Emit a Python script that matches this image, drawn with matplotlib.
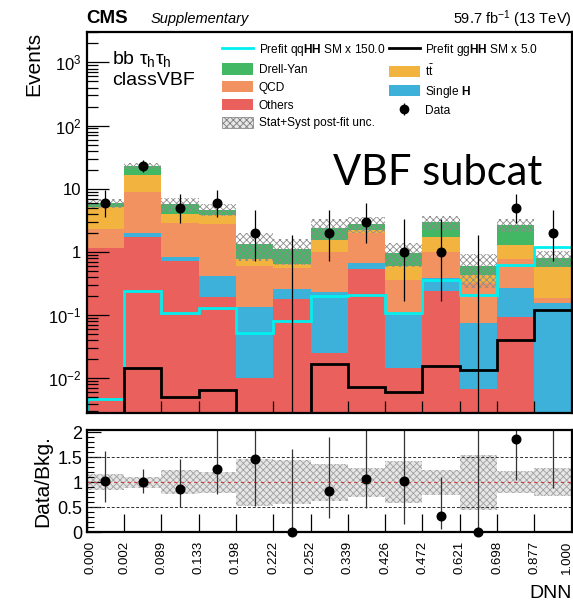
import numpy as np
import matplotlib
matplotlib.use('Agg')
import matplotlib.pyplot as plt
import matplotlib.transforms as mtransforms
from matplotlib.patches import Patch
from matplotlib.lines import Line2D
from matplotlib.ticker import FixedLocator

plt.rcParams['font.family'] = ['Liberation Sans', 'DejaVu Sans']
plt.rcParams['mathtext.fontset'] = 'custom'
plt.rcParams['mathtext.rm'] = 'Liberation Sans'
plt.rcParams['mathtext.it'] = 'Liberation Sans:italic'
plt.rcParams['mathtext.bf'] = 'Liberation Sans:bold'
plt.rcParams['hatch.linewidth'] = 0.6

# DNN bin edges (labels only, bins are drawn with equal width)
edge_labels = ['0.000', '0.002', '0.089', '0.133', '0.198', '0.222', '0.252',
               '0.339', '0.426', '0.472', '0.621', '0.698', '0.877', '1.000']

# background yields per bin (stacked bottom -> top)
others = [1.15, 1.75, 0.73, 0.196, 0.010, 0.178, 0.025, 0.53, 0.0148, 0.244, 0.0069, 0.095, 0.001]
single_h = [0.02, 0.27, 0.09, 0.22, 0.126, 0.08, 0.21, 0.13, 0.085, 0.14, 0.069, 0.171, 0.153]
qcd = [1.12, 7.0, 2.05, 2.35, 0.46, 0.31, 0.78, 1.36, 0.26, 0.63, 0.244, 0.52, 0.031]
ttbar = [2.9, 7.5, 1.13, 1.08, 0.17, 0.08, 0.53, 0.2, 0.23, 0.74, 0.11, 0.5, 0.385]
drell_yan = [0.7, 6.4, 1.7, 0.85, 0.59, 0.45, 0.89, 0.6, 0.39, 1.25, 0.17, 1.4, 0.23]

# relative post-fit uncertainty
rel_unc = [0.16, 0.11, 0.24, 0.21, 0.47, 0.44, 0.37, 0.29, 0.42, 0.25, 0.55, 0.22, 0.28]

# signals
qqhh = [0.0047, 0.241, 0.107, 0.128, 0.053, 0.082, 0.2, 0.205, 0.107, 0.36, 0.209, 0.62, 1.21]
gghh = [0.0027, 0.0144, 0.0051, 0.0065, 0.0027, 0.0027, 0.0169, 0.0074, 0.0061, 0.0159, 0.0136, 0.04, 0.12]

# data and Poisson (Garwood) errors
data = [6, 23, 5, 6, 2, 0, 2, 3, 1, 1, 0, 5, 2]
data_lo = [2.38, 4.77, 2.16, 2.38, 1.29, 0, 1.29, 1.63, 0.83, 0.83, 0, 2.16, 1.29]
data_hi = [3.58, 5.86, 3.38, 3.58, 2.64, 1.84, 2.64, 2.92, 2.30, 2.30, 1.84, 3.38, 2.64]

colors = {'Others': '#ea605d', 'Single H': '#3db1d9', 'QCD': '#f19260',
          'ttbar': '#f3b43f', 'Drell-Yan': '#42b865'}

nb = len(data)
edges = np.arange(nb + 1)
centers = edges[:-1] + 0.5
ymin, ymax = 2.86e-3, 3.06e3

fig = plt.figure(figsize=(5.73, 6.04), dpi=100)
ax = fig.add_axes([0.1513, 0.3167, 0.8464, 0.6308])
rax = fig.add_axes([0.1513, 0.1187, 0.8464, 0.1694])

# stack
layers = [(others, 'Others'), (single_h, 'Single H'), (qcd, 'QCD'),
          (ttbar, 'ttbar'), (drell_yan, 'Drell-Yan')]
base = np.full(nb, 1e-6)
for vals, name in layers:
    top = base + np.array(vals)
    ax.stairs(top, edges, baseline=base, fill=True, color=colors[name], lw=0)
    base = top
total = base

unc = total * np.array(rel_unc)
ax.stairs(total + unc, edges, baseline=total - unc, fill=True, facecolor='none',
          edgecolor='#8c8c8c', hatch='xxxxx', lw=0)

ax.stairs(qqhh, edges, baseline=1e-6, color='#00f0f0', lw=2.0)
ax.stairs(gghh, edges, baseline=1e-6, color='black', lw=2.0)

data = np.array(data, dtype=float)
lo = np.where(data > 0, data - np.array(data_lo), 1e-6)
hi = data + np.array(data_hi)
ax.vlines(centers, lo, hi, color='black', lw=0.9)
nz = data > 0
ax.plot(centers[nz], data[nz], 'o', color='black', ms=6.2)

ax.set_yscale('log')
ax.set_ylim(ymin, ymax)
ax.set_xlim(0, nb)
ax.set_ylabel('Events', fontsize=15, loc='top', labelpad=3)
ax.set_yticks([1e-2, 1e-1, 1, 10, 1e2, 1e3])
ax.set_yticklabels([r'$10^{-2}$', r'$10^{-1}$', '1', '10', r'$10^{2}$', r'$10^{3}$'], fontsize=12)
ax.tick_params(axis='y', which='major', direction='in', length=16, width=0.9, pad=4)
ax.tick_params(axis='y', which='minor', direction='in', length=8, width=0.9)
ax.set_xticks(edges)
ax.set_xticklabels([])
ax.tick_params(axis='x', which='major', direction='in', length=9, width=0.9)
ax.tick_params(axis='x', which='minor', bottom=False)
for s in ax.spines.values():
    s.set_linewidth(1.6)

# labels
fig.text(0.1513, 0.970, 'CMS', fontsize=13.5, fontweight='bold', ha='left', va='center')
fig.text(0.262, 0.968, 'Supplementary', fontsize=10.5, style='italic', ha='left', va='center')
fig.text(0.998, 0.968, r'59.7 fb$^{-1}$ (13 TeV)', fontsize=10.5, ha='right', va='center')
ax.text(0.053, 0.955, r'bb τ$_\mathrm{h}$τ$_\mathrm{h}$', transform=ax.transAxes,
        fontsize=14, ha='left', va='top')
ax.text(0.053, 0.895, 'classVBF', transform=ax.transAxes, fontsize=14, ha='left', va='top')
fig.text(333 / 573, 1 - 185 / 604, 'VBF subcat', fontsize=30, family='Lato',
         ha='left', va='baseline')

data_handle = (Line2D([], [], color='black', marker='|', ms=9, mew=0.9, lw=0),
               Line2D([], [], color='black', marker='o', ms=6, lw=0))
handles = [
    Line2D([], [], color='#00f0f0', lw=2),
    Patch(facecolor=colors['Drell-Yan'], lw=0),
    Patch(facecolor=colors['QCD'], lw=0),
    Patch(facecolor=colors['Others'], lw=0),
    Patch(facecolor='#e6e6e6', edgecolor='#7a7a7a', hatch='xxxxx', lw=0.5),
    Line2D([], [], color='black', lw=2),
    Patch(facecolor=colors['ttbar'], lw=0),
    Patch(facecolor=colors['Single H'], lw=0),
    data_handle,
]
labels = [r'Prefit qq$\mathbf{HH}$ SM x 150.0', 'Drell-Yan', 'QCD', 'Others',
          'Stat+Syst post-fit unc.', r'Prefit gg$\mathbf{HH}$ SM x 5.0', r't$\bar{\mathrm{t}}$',
          r'Single $\mathbf{H}$', 'Data']
ax.legend(handles, labels, ncol=2, loc='upper left', bbox_to_anchor=(0.27, 0.985),
          frameon=False, fontsize=8.6, handlelength=2.6, handleheight=1.1,
          handletextpad=0.45, labelspacing=0.42, columnspacing=0.3, borderaxespad=0)

# ratio panel
ratio = data / total
r_lo = np.array(data_lo) / total
r_hi = np.array(data_hi) / total
rel = np.array(rel_unc)
rax.stairs(1 + rel, edges, baseline=1 - rel, fill=True, facecolor='#e6e6e6',
           edgecolor='#a0a0a0', hatch='xxxxx', lw=0)
rax.axhline(1, color='#d04040', lw=0.8, ls=(0, (3, 3)))
for yv in (0.5, 1.5):
    rax.axhline(yv, color='#303030', lw=0.7, ls=(0, (3, 2)))
rax.vlines(centers, ratio - r_lo, ratio + r_hi, color='#333333', lw=0.9)
rmax = 2.05
inside = ratio <= rmax
rax.plot(centers[inside], ratio[inside], 'o', color='black', ms=6.2, clip_on=False, zorder=5)
rax.set_xlim(0, nb)
rax.set_ylim(0, rmax)
rax.set_yticks([0, 0.5, 1, 1.5, 2])
rax.set_yticklabels(['0', '0.5', '1', '1.5', '2'], fontsize=13)
rax.yaxis.set_minor_locator(FixedLocator(np.arange(0, 2.05, 0.1)))
rax.tick_params(axis='y', which='major', direction='in', length=10, width=0.9, pad=3)
rax.tick_params(axis='y', which='minor', direction='in', length=5, width=0.8)
rax.set_xticks(edges)
rax.set_xticklabels(edge_labels, rotation=90, fontsize=9.5)
rax.tick_params(axis='x', which='major', direction='in', length=13, width=0.9, pad=6)
# keep the first and last edge labels inside the canvas
xlabs = rax.get_xticklabels()
xlabs[0].set_transform(xlabs[0].get_transform() +
                       mtransforms.ScaledTranslation(4 / 100, 0, fig.dpi_scale_trans))
xlabs[-1].set_transform(xlabs[-1].get_transform() +
                        mtransforms.ScaledTranslation(-5 / 100, 0, fig.dpi_scale_trans))
rax.set_ylabel('Data/Bkg.', fontsize=15, labelpad=4)
for s in rax.spines.values():
    s.set_linewidth(1.6)
fig.text(0.998, 1 - 593 / 604, 'DNN', fontsize=14, ha='right', va='center')

fig.savefig('out.png', dpi=100)
